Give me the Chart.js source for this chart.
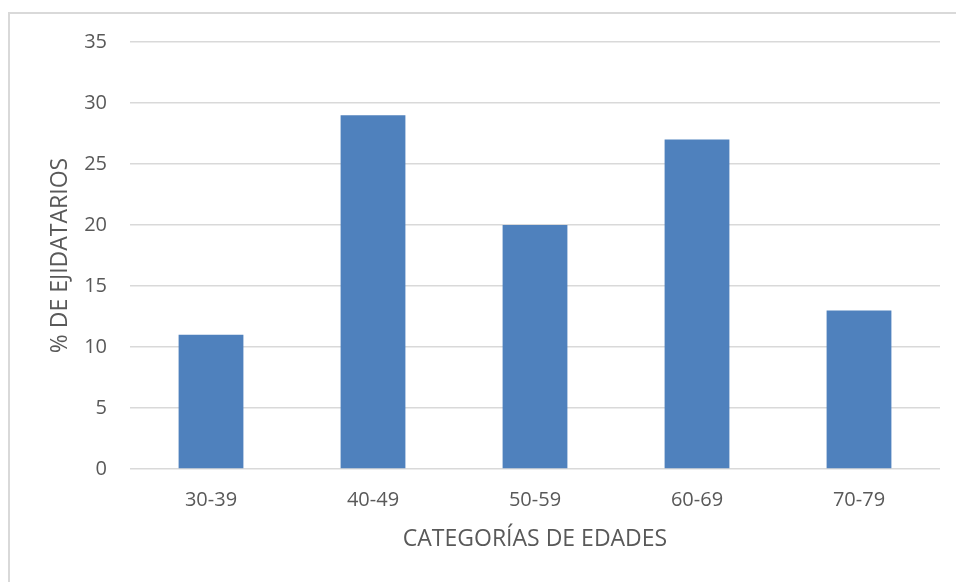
<!DOCTYPE html>
<html>
<head>
<meta charset="utf-8">
<script src="https://cdn.jsdelivr.net/npm/chart.js@4.4.1/dist/chart.umd.min.js"></script>
<style>
  html, body { margin: 0; padding: 0; background: #fff; }
  canvas { display: block; }
</style>
</head>
<body>
<canvas id="c" width="956" height="582"></canvas>
<script>
const categorias = ['30-39', '40-49', '50-59', '60-69', '70-79'];
const porcentajes = [11, 29, 20, 27, 13];
const yMax = 35;
const yStep = 5;

const textColor = '#595959';
const gridColor = '#d9d9d9';
const fontFamily = '"Open Sans", sans-serif';
const tickSize = 20;
const titleSize = 23;

// marco exterior del gráfico
const marco = {
  id: 'marco',
  beforeDraw(chart) {
    const ctx = chart.ctx;
    ctx.save();
    ctx.strokeStyle = gridColor;
    ctx.lineWidth = 2;
    ctx.strokeRect(9, 13, 980, 600);
    ctx.restore();
  }
};

new Chart(document.getElementById('c'), {
  type: 'bar',
  data: {
    labels: categorias,
    datasets: [{
      data: porcentajes,
      backgroundColor: '#4f81bd',
      categoryPercentage: 1,
      barPercentage: 0.4
    }]
  },
  options: {
    responsive: false,
    animation: false,
    layout: { padding: { top: 42, right: 16, left: 0, bottom: 0 } },
    plugins: { legend: { display: false }, tooltip: { enabled: false } },
    scales: {
      x: {
        grid: { display: false, drawTicks: false },
        border: { display: false },
        ticks: { color: textColor, font: { family: fontFamily, size: tickSize }, padding: 19 },
        title: { display: true, text: 'CATEGORÍAS DE EDADES', color: textColor, font: { family: fontFamily, size: titleSize }, padding: { top: 0, bottom: 29 } },
        afterFit(s) { s.height = 113; }
      },
      y: {
        min: 0, max: yMax,
        ticks: { stepSize: yStep, color: textColor, font: { family: fontFamily, size: tickSize }, padding: 23 },
        grid: { color: gridColor, lineWidth: 1.5, drawTicks: false },
        border: { display: false },
        title: { display: true, text: '% DE EJIDATARIOS', color: textColor, font: { family: fontFamily, size: titleSize }, padding: { top: 47, bottom: 0 } },
        afterFit(s) { s.width = 130; }
      }
    }
  },
  plugins: [marco]
});
</script>
</body>
</html>
